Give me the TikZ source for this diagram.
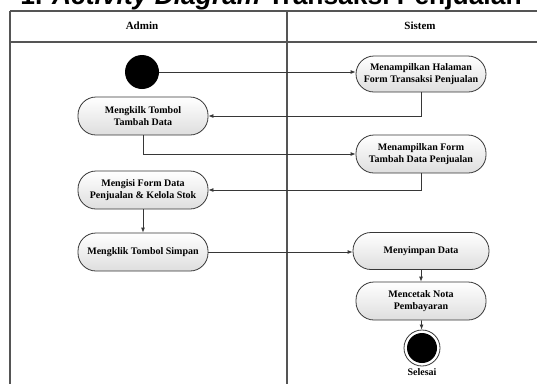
\documentclass[tikz,border=0pt]{standalone}
\usepackage{fontspec}
\setmainfont{Liberation Serif}
\newfontfamily\titlefont{Liberation Sans}
\usetikzlibrary{arrows.meta}

\begin{document}
\begin{tikzpicture}[x=1pt, y=-1pt, >={Latex[length=5pt,width=4pt]},
  act/.style={draw=linecolor, line width=0.8pt, rounded corners=18pt,
    minimum width=130pt, minimum height=38pt, top color=white,
    bottom color=nodebottom, align=center, inner sep=2pt,
    font=\fontsize{10}{11.5}\selectfont\bfseries},
  flow/.style={->, draw=linecolor, line width=0.8pt},
  lane/.style={draw=tablecolor, line width=1.1pt}]

\definecolor{linecolor}{RGB}{55, 55, 55}
\definecolor{tablecolor}{RGB}{85, 85, 85}
\definecolor{nodebottom}{RGB}{222, 222, 222}

\useasboundingbox (0,0) rectangle (537,384);

\node[font=\titlefont\fontsize{26.4}{30}\selectfont\bfseries, anchor=base, inner sep=0pt] (title) at (271,4) {1. \textit{Activity Diagram} Transaksi Penjualan};

\draw[lane] (10,11) -- (537,11);
\draw[lane] (10,42) -- (537,42);
\draw[lane] (10,11) -- (10,384);
\draw[lane] (287,11) -- (287,384);

\node[font=\fontsize{11}{13}\selectfont\bfseries] (admin) at (142,26) {Admin};
\node[font=\fontsize{11}{13}\selectfont\bfseries] (sistem) at (420,26) {Sistem};

\node[circle, fill=black, minimum size=34pt, inner sep=0pt] (start) at (142,72) {};
\node[act] (tombol) at (143,116) {Mengkilk Tombol\\Tambah Data};
\node[act] (mengisi) at (143,190) {Mengisi Form Data\\Penjualan \& Kelola Stok};
\node[act] (simpan) at (143,252) {Mengklik Tombol Simpan};

\node[act, minimum height=36pt] (halaman) at (421,74) {Menampilkan Halaman\\Form Transaksi Penjualan};
\node[act] (formtambah) at (421,154) {Menampilkan Form\\Tambah Data Penjualan};
\node[act, minimum width=136pt, minimum height=37pt] (menyimpan) at (421,251) {Menyimpan Data};
\node[act] (nota) at (421,301) {Mencetak Nota\\Pembayaran};
\node[circle, draw=linecolor, line width=0.8pt, minimum size=36pt, inner sep=0pt] (selesai) at (422,348) {};
\fill[black] (selesai.center) circle (15pt);
\node[font=\fontsize{10}{12}\selectfont\bfseries] (selesailabel) at (422,372) {Selesai};

\draw[flow] (start) -- (start -| halaman.west);
\draw[flow] (halaman.south) |- (tombol.east);
\draw[flow] (tombol.south) |- (formtambah.west);
\draw[flow] (formtambah.south) |- (mengisi.east);
\draw[flow] (mengisi) -- (simpan);
\draw[flow] (simpan.east) -- (simpan.east -| menyimpan.west);
\draw[flow] (menyimpan) -- (nota);
\draw[flow] (nota) -- (selesai);

\end{tikzpicture}
\end{document}
